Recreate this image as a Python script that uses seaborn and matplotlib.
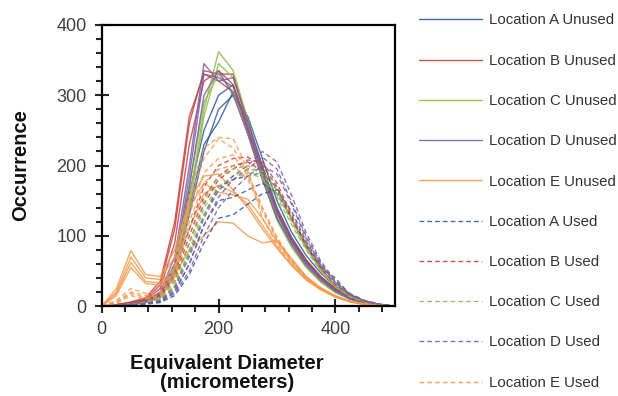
import numpy as np
import pandas as pd
import seaborn as sns
import matplotlib.pyplot as plt
from matplotlib.lines import Line2D
from matplotlib.ticker import MultipleLocator

diameter = [0, 25, 50, 75, 100, 125, 150, 175, 200, 225, 250,
            275, 300, 325, 350, 375, 400, 425, 450, 475, 500]

# unused samples (solid)
a_unused = [
    [0, 1, 3, 6, 15, 50, 140, 230, 262, 305, 262, 200, 140, 98, 66, 42, 25, 13, 6, 2, 0],
    [0, 1, 2, 5, 12, 45, 130, 220, 280, 300, 270, 210, 150, 105, 72, 47, 28, 15, 7, 2, 0],
    [0, 1, 3, 7, 18, 60, 160, 250, 300, 315, 250, 190, 135, 95, 63, 40, 24, 12, 5, 2, 0],
]
b_unused = [
    [0, 2, 5, 10, 30, 110, 260, 335, 330, 330, 265, 195, 138, 96, 65, 42, 25, 13, 6, 2, 0],
    [0, 2, 6, 12, 35, 120, 270, 330, 320, 305, 250, 185, 130, 92, 62, 40, 23, 12, 5, 2, 0],
    [0, 1, 4, 9, 25, 90, 230, 320, 335, 315, 258, 192, 135, 95, 64, 41, 24, 12, 5, 2, 0],
]
c_unused = [
    [0, 1, 3, 6, 15, 50, 150, 280, 362, 335, 265, 185, 125, 85, 56, 35, 20, 10, 4, 1, 0],
    [0, 1, 3, 6, 14, 45, 140, 270, 345, 325, 260, 190, 130, 88, 58, 37, 21, 11, 5, 1, 0],
    [0, 1, 3, 7, 18, 60, 170, 290, 330, 305, 245, 180, 122, 84, 55, 34, 19, 10, 4, 1, 0],
]
d_unused = [
    [0, 1, 4, 8, 20, 70, 200, 345, 320, 325, 262, 195, 135, 93, 62, 40, 23, 12, 5, 2, 0],
    [0, 1, 3, 7, 18, 60, 185, 330, 325, 312, 255, 190, 132, 92, 61, 39, 22, 11, 5, 2, 0],
    [0, 1, 3, 7, 16, 55, 170, 300, 335, 300, 245, 180, 125, 88, 58, 37, 21, 10, 4, 2, 0],
]
e_unused = [
    [0, 25, 79, 45, 42, 80, 150, 185, 188, 165, 140, 110, 82, 58, 38, 24, 14, 7, 3, 1, 0],
    [0, 20, 70, 40, 38, 70, 140, 175, 162, 158, 152, 125, 92, 64, 42, 26, 15, 7, 3, 1, 0],
    [0, 18, 62, 35, 33, 55, 110, 160, 172, 162, 145, 115, 85, 58, 37, 23, 13, 6, 3, 1, 0],
    [0, 15, 55, 32, 30, 45, 80, 100, 120, 118, 100, 90, 93, 68, 42, 25, 13, 6, 2, 1, 0],
]

# used samples (dashed)
a_used = [
    [0, 1, 2, 3, 5, 15, 45, 90, 125, 130, 145, 160, 165, 135, 92, 58, 34, 17, 8, 3, 0],
    [0, 1, 2, 3, 6, 20, 60, 115, 150, 155, 165, 175, 160, 125, 88, 55, 40, 16, 7, 2, 0],
    [0, 1, 2, 4, 8, 28, 75, 130, 170, 180, 185, 190, 168, 125, 84, 52, 30, 15, 6, 2, 0],
]
b_used = [
    [0, 2, 5, 8, 15, 45, 110, 170, 200, 210, 212, 200, 170, 126, 86, 54, 30, 15, 6, 2, 0],
    [0, 2, 4, 7, 13, 40, 100, 155, 185, 200, 205, 192, 165, 124, 84, 53, 29, 15, 6, 2, 0],
    [0, 1, 4, 6, 12, 35, 90, 145, 180, 195, 208, 205, 175, 130, 88, 55, 30, 15, 6, 2, 0],
]
c_used = [
    [0, 1, 3, 6, 12, 35, 90, 150, 185, 195, 200, 188, 160, 120, 82, 51, 28, 14, 6, 2, 0],
    [0, 1, 3, 5, 10, 30, 80, 140, 170, 185, 195, 192, 165, 124, 84, 52, 29, 14, 6, 2, 0],
    [0, 1, 2, 5, 9, 28, 75, 130, 165, 180, 190, 182, 155, 116, 80, 49, 27, 13, 6, 2, 0],
]
d_used = [
    [0, 1, 2, 4, 8, 25, 70, 125, 165, 185, 200, 220, 205, 158, 104, 64, 36, 18, 8, 3, 0],
    [0, 1, 2, 4, 7, 22, 60, 115, 155, 180, 195, 212, 195, 148, 99, 61, 34, 17, 7, 2, 0],
    [0, 1, 2, 3, 6, 18, 50, 100, 140, 165, 185, 200, 188, 145, 96, 59, 33, 16, 7, 2, 0],
]
e_used = [
    [0, 8, 25, 18, 20, 60, 160, 225, 240, 238, 195, 125, 88, 60, 40, 25, 14, 7, 3, 1, 0],
    [0, 6, 20, 15, 18, 55, 150, 210, 238, 225, 190, 140, 98, 66, 42, 26, 14, 7, 3, 1, 0],
    [0, 5, 18, 12, 15, 45, 130, 190, 210, 215, 185, 140, 96, 64, 41, 25, 14, 7, 3, 1, 0],
    [0, 4, 15, 10, 12, 40, 120, 175, 195, 200, 180, 135, 94, 62, 39, 24, 13, 6, 3, 1, 0],
]

series = [
    ("Location A Unused", a_unused, "#2E5A98", "-"),
    ("Location B Unused", b_unused, "#C8403C", "-"),
    ("Location C Unused", c_unused, "#8DBB4A", "-"),
    ("Location D Unused", d_unused, "#7B5CA6", "-"),
    ("Location E Unused", e_unused, "#F59A4E", "-"),
    ("Location A Used", a_used, "#2E5A98", "--"),
    ("Location B Used", b_used, "#C8403C", "--"),
    ("Location C Used", c_used, "#8DBB4A", "--"),
    ("Location D Used", d_used, "#7B5CA6", "--"),
    ("Location E Used", e_used, "#F59A4E", "--"),
]

sns.set_theme(style="white")
plt.rcParams["font.family"] = ["Liberation Sans", "DejaVu Sans"]

fig = plt.figure(figsize=(6.18, 3.96), dpi=100)
ax = fig.add_axes([0.1646, 0.227, 0.4745, 0.71])

dash = (3.4, 2.2)
handles = []
for name, curves, color, ls in series:
    for i, vals in enumerate(curves):
        df = pd.DataFrame({"d": diameter, "n": vals})
        line_kw = dict(dashes=dash) if ls == "--" else {}
        sns.lineplot(data=df, x="d", y="n", ax=ax, color=color, lw=1.0,
                     alpha=0.85, legend=False, **line_kw)
    h = Line2D([], [], color=color, lw=1.0, alpha=0.9)
    if ls == "--":
        h.set_dashes(dash)
    handles.append(h)

ax.set_xlim(0, 502)
ax.set_ylim(0, 400)
ax.xaxis.set_major_locator(MultipleLocator(200))
ax.xaxis.set_minor_locator(MultipleLocator(40))
ax.yaxis.set_major_locator(MultipleLocator(100))
ax.yaxis.set_minor_locator(MultipleLocator(20))
ax.tick_params(which="major", direction="inout", length=10, width=1.5,
               labelsize=13, labelcolor="#404040", pad=6,
               left=True, bottom=True)
ax.tick_params(which="minor", direction="out", length=4, width=1.5,
               left=True, bottom=True)
for s in ax.spines.values():
    s.set_color("black")
    s.set_linewidth(1.6)

ax.set_xlabel("Equivalent Diameter\n(micrometers)", fontsize=14.5,
              fontweight="bold", color="#111111", linespacing=1.0)
ax.set_ylabel("Occurrence", fontsize=14.5, fontweight="bold", color="#111111")
ax.xaxis.set_label_coords(0.427, -0.172)
ax.yaxis.set_label_coords(-0.245, 0.5)

fig.legend(handles, [s[0] for s in series], loc="upper left",
           bbox_to_anchor=(419 / 618, 1 - 13.5 / 396), frameon=False,
           fontsize=10.8, handlelength=4.2, handletextpad=0.47,
           labelspacing=1.75, borderpad=0, borderaxespad=0,
           labelcolor="#333333")

fig.savefig("out.png", dpi=100)
